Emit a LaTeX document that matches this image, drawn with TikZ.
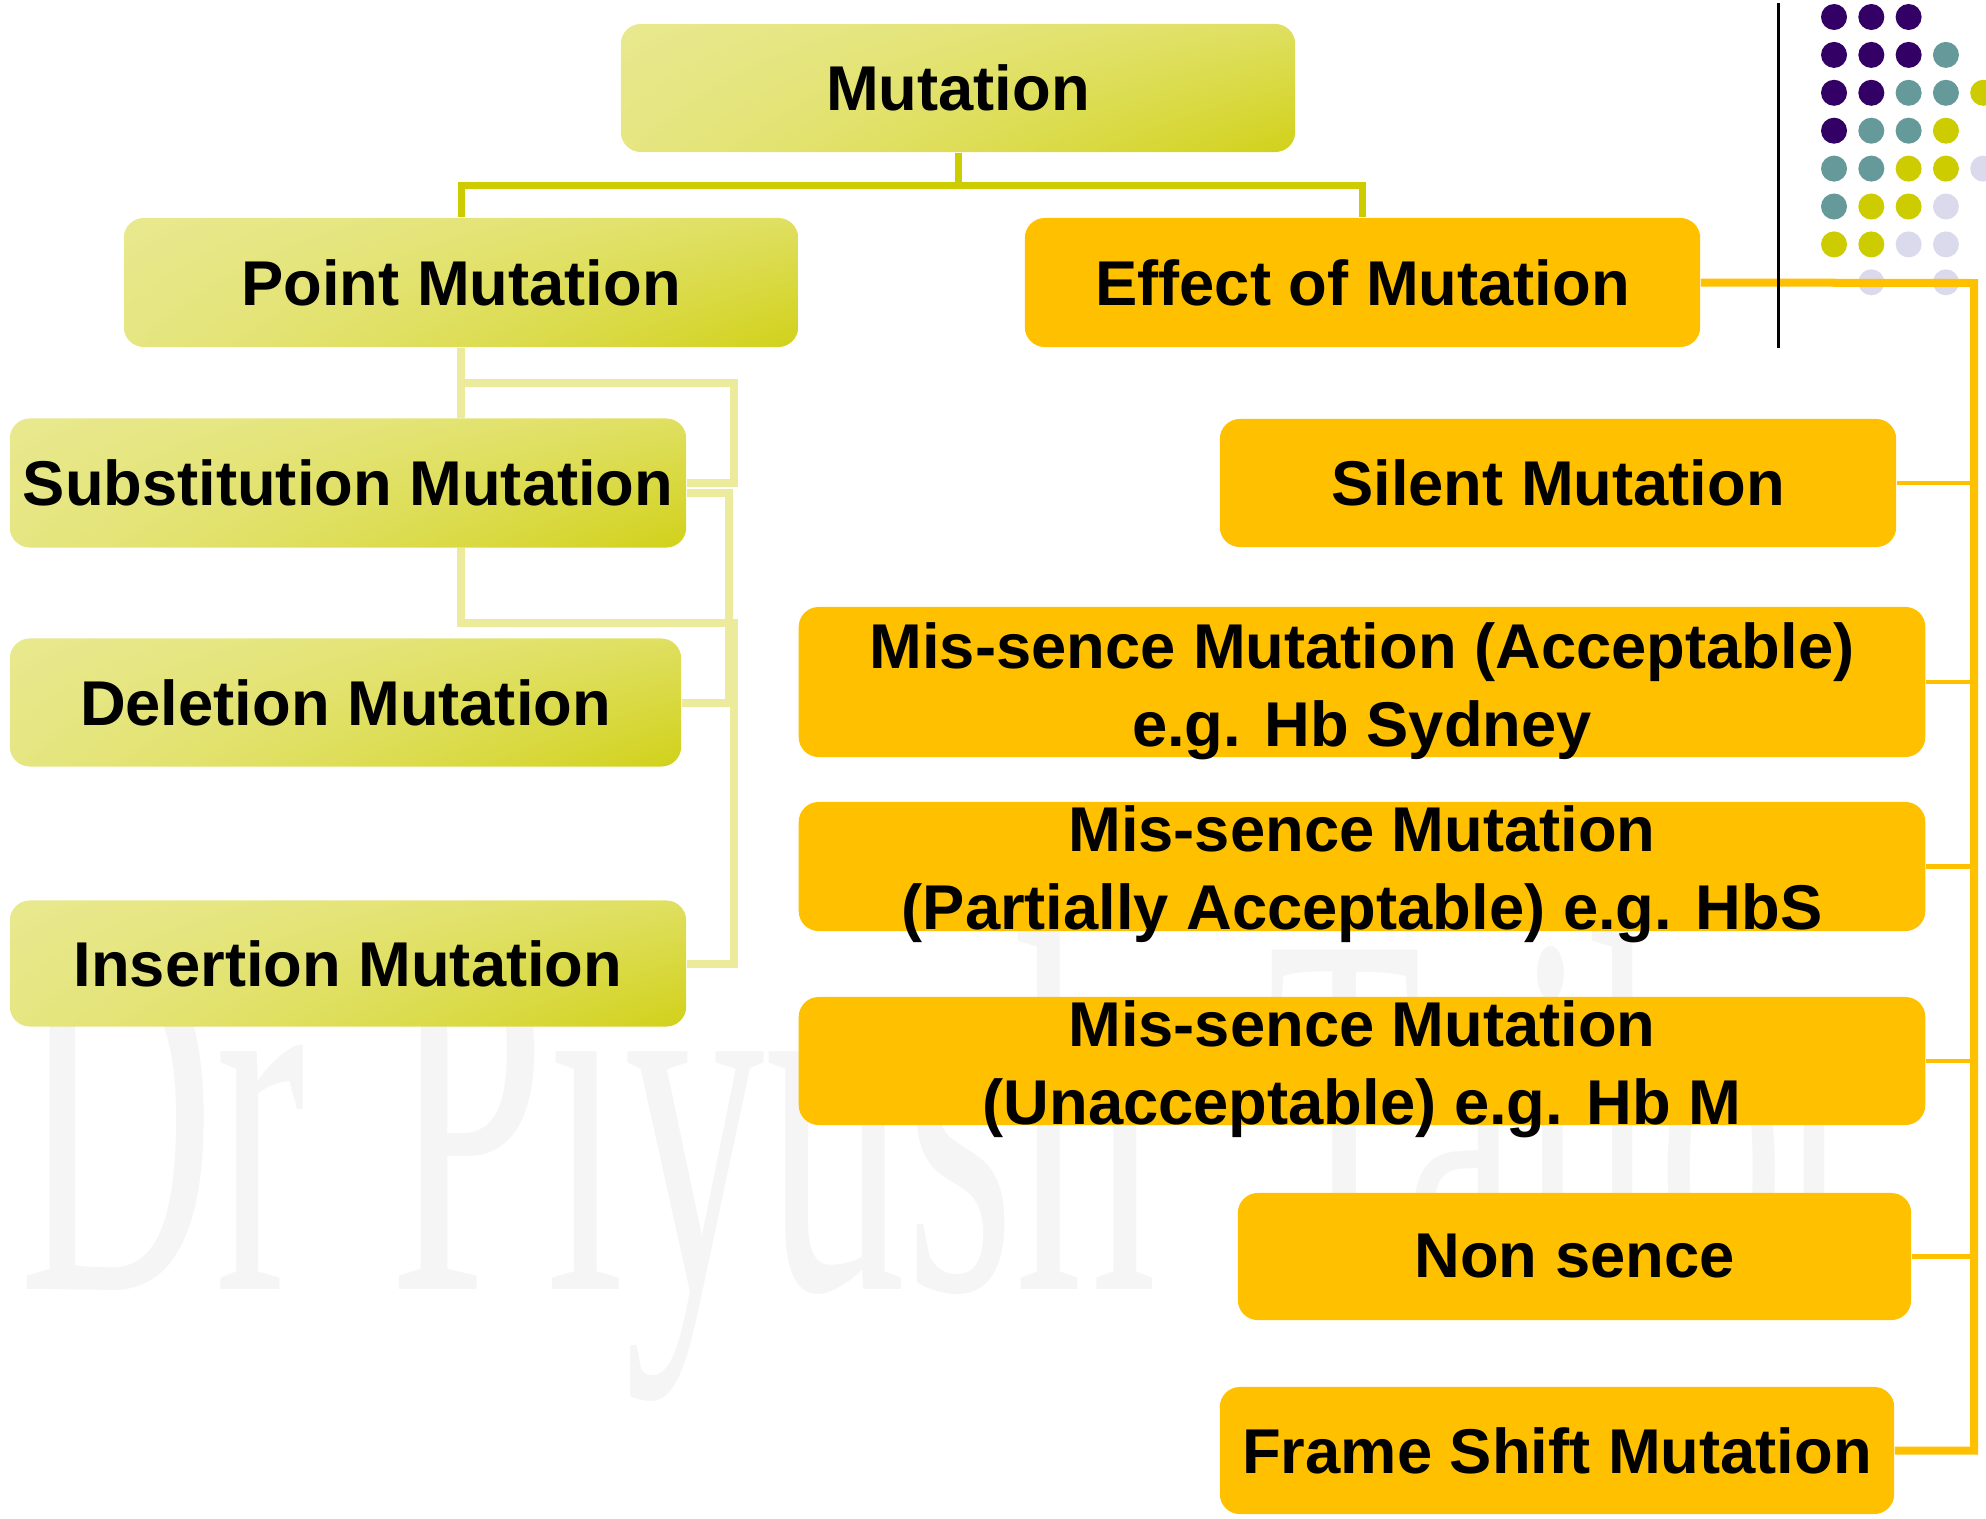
\documentclass[tikz,border=0pt]{standalone}
\usepackage{fontspec}
\setmainfont{Liberation Sans}
\newfontfamily\wmfont{Liberation Serif}
\usetikzlibrary{calc}

\definecolor{oliveD}{RGB}{204,204,0}
\definecolor{oliveL}{RGB}{234,234,152}
\definecolor{paleLine}{RGB}{236,234,155}
\definecolor{ambr}{RGB}{255,192,0}
\definecolor{dotP}{RGB}{51,0,102}
\definecolor{dotT}{RGB}{102,153,153}
\definecolor{dotY}{RGB}{204,204,0}
\definecolor{dotL}{RGB}{218,218,236}
\definecolor{wmGray}{RGB}{245,245,245}

% pale olive that deepens towards the lower right corner of a box:
% d = s^1.6 (0.2 + 1.5 u)  (s: left->right, u: top->bottom), colour = mix of pale and deep olive
\pgfdeclarefunctionalshading{oliveglow}{\pgfpoint{-50bp}{-50bp}}{\pgfpoint{50bp}{50bp}}{}{
  50 exch sub 100 div
  exch 50 add 100 div
  dup 0 lt {pop 0} if
  1.6 exp
  exch 1.5 mul 0.2 add
  mul
  dup 1 gt {pop 1} if
  dup 0 lt {pop 0} if
  dup 0.118 mul 0.918 exch sub
  exch
  dup 0.118 mul 0.918 exch sub
  exch
  0.596 mul 0.596 exch sub
}

\begin{document}
\begin{tikzpicture}[x=0.01cm, y=-0.01cm,
  font=\bfseries\fontsize{18}{22.2}\selectfont,
  greenbox/.style={rectangle, rounded corners=0.2cm, inner sep=0pt,
    shading=oliveglow, align=center},
  orangebox/.style={rectangle, rounded corners=0.2cm, inner sep=0pt,
    fill=ambr, align=center},
  boxtext/.style={inner sep=0pt, align=center},
  topline/.style={draw=oliveD, line width=0.07cm},
  paleline/.style={draw=paleLine, line width=0.08cm},
  mainline/.style={draw=ambr, line width=0.08cm},
  branchline/.style={draw=ambr, line width=0.045cm},
  watermark/.style={inner sep=0pt, anchor=base west, text=wmGray,
    font=\wmfont\mdseries\fontsize{100}{100}\selectfont},
]
\useasboundingbox (0,0) rectangle (1986,1518);

% faint author watermark behind everything
\node[watermark] (wm1) at (19,1289)   {\scalebox{0.77}[1.474]{Dr}};
\node[watermark] (wm2) at (389,1289)  {\scalebox{0.80}[1.474]{Piyush}};
\node[watermark] (wm3) at (1267,1289) {\scalebox{0.72}[1.474]{Tailor}};

% decorative dot grid, top right
\foreach \c/\r/\col in {
  0/0/dotP,1/0/dotP,2/0/dotP,
  0/1/dotP,1/1/dotP,2/1/dotP,3/1/dotT,
  0/2/dotP,1/2/dotP,2/2/dotT,3/2/dotT,4/2/dotY,
  0/3/dotP,1/3/dotT,2/3/dotT,3/3/dotY,
  0/4/dotT,1/4/dotT,2/4/dotY,3/4/dotY,4/4/dotL,
  0/5/dotT,1/5/dotY,2/5/dotY,3/5/dotL,
  0/6/dotY,1/6/dotY,2/6/dotL,3/6/dotL,
  1/7/dotL,3/7/dotL}
  \fill[\col] ({1834+37.3*\c},{17+37.9*\r}) circle[radius=0.13cm];

% boxes
\node[greenbox, minimum width=6.74cm, minimum height=1.28cm] (mut) at (958,88) {Mutation};
\node[greenbox, minimum width=6.74cm, minimum height=1.29cm] (pm) at (461,282.5) {Point Mutation};
\node[orangebox, minimum width=6.75cm, minimum height=1.29cm] (eff) at (1362.5,282.5) {Effect of Mutation};

\node[greenbox, minimum width=6.76cm, minimum height=1.29cm] (sub) at (348,483) {Substitution Mutation};
\node[greenbox, minimum width=6.71cm, minimum height=1.28cm] (del) at (345.5,702.5) {Deletion Mutation};
\node[greenbox, minimum width=6.76cm, minimum height=1.26cm] (ins) at (348,963.5) {Insertion Mutation};

\node[orangebox, minimum width=6.76cm, minimum height=1.28cm] (sil) at (1558,483) {Silent Mutation};
\node[orangebox, minimum width=11.26cm, minimum height=1.50cm] (acc) at (1362,682) {};
\node[orangebox, minimum width=11.26cm, minimum height=1.29cm] (par) at (1362,866.5) {};
\node[orangebox, minimum width=11.26cm, minimum height=1.28cm] (una) at (1362,1061) {};
\node[orangebox, minimum width=6.73cm, minimum height=1.27cm] (non) at (1574.5,1256.5) {Non sence};
\node[orangebox, minimum width=6.74cm, minimum height=1.27cm] (frm) at (1557,1450.5) {Frame Shift Mutation};

% two-line labels, allowed to run past their boxes
\node[boxtext] (accT) at ($(acc.center)+(0,9)$) {Mis-sence Mutation (Acceptable)\\e.g. Hb Sydney};
\node[boxtext] (parT) at ($(par.center)+(0,8)$) {Mis-sence Mutation\\(Partially Acceptable) e.g. HbS};
\node[boxtext] (unaT) at ($(una.center)+(0,8)$) {Mis-sence Mutation\\(Unacceptable) e.g. Hb M};

% top level connectors
\draw[topline] (mut.south) -- ++(0,33) -| (pm.north);
\draw[topline] (mut.south) -- ++(0,33) -| (eff.north);

% left branch connectors
\coordinate (a1) at (734,383);
\coordinate (b1) at (729,493);
\coordinate (c1) at (734,623);
\draw[paleline] (pm.south) -- (pm.south |- sub.north);
\draw[paleline] (pm.south) |- (a1) |- (sub.east);
\draw[paleline] (sub.east |- b1) -- (b1) |- (del.east);
\draw[paleline] (sub.south -| pm.south) |- (c1) |- (ins.east);

% right branch connectors
\coordinate (r1) at (1974,283);
\foreach \b in {sil,acc,par,una,non}
  \draw[branchline] (\b.east) -- (\b.east -| r1);
\draw[mainline] (eff.east) -- (r1) |- (frm.east);

% thin vertical rule beside the dots
\coordinate (k1) at (1778,3);
\coordinate (k2) at (1778,348);
\draw[black, line width=0.03cm] (k1) -- (k2);
\end{tikzpicture}
\end{document}
